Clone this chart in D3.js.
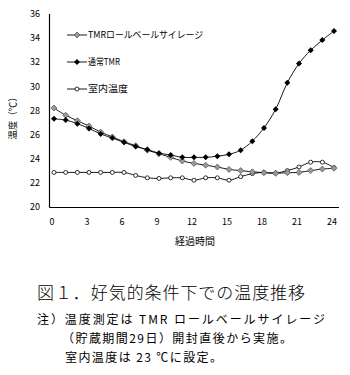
<!DOCTYPE html>
<html>
<head>
<meta charset="utf-8">
<script src="https://cdn.jsdelivr.net/npm/d3@7"></script>
<style>
  html, body { margin: 0; padding: 0; background: #fff; }
  svg { display: block; }
  text { font-family: "Noto Sans CJK JP", "DejaVu Sans", sans-serif; fill: #000; }
</style>
</head>
<body>
<svg id="chart" width="350" height="375"></svg>
<script>
// Elapsed hours after opening
const hours = d3.range(0, 25);

// Temperature (°C) per hour for each series
const rollBaleTemp = [28.2, 27.6, 27.15, 26.7, 26.2, 25.8, 25.4, 25.07, 24.7, 24.4, 24.1, 23.8, 23.6, 23.45, 23.3, 23.1, 23.0, 22.9, 22.83, 22.77, 22.83, 22.85, 23.0, 23.13, 23.2];
const normalTmrTemp = [27.3, 27.2, 26.9, 26.5, 26.05, 25.7, 25.35, 25.0, 24.75, 24.45, 24.3, 24.1, 24.1, 24.1, 24.2, 24.35, 24.7, 25.45, 26.55, 28.1, 30.3, 31.9, 33.0, 33.85, 34.6];
const roomTemp = [22.85, 22.85, 22.85, 22.85, 22.85, 22.85, 22.85, 22.6, 22.4, 22.35, 22.4, 22.4, 22.2, 22.4, 22.4, 22.2, 22.5, 22.75, 22.85, 22.8, 23.0, 23.3, 23.7, 23.7, 23.25];

const seriesNames = ["TMRロールベールサイレージ", "通常TMR", "室内温度"];
const xTicks = [0, 3, 6, 9, 12, 15, 18, 21, 24];
const yTicks = [20, 22, 24, 26, 28, 30, 32, 34, 36];

const svg = d3.select("#chart");

const x = d3.scaleLinear().domain([0, 24]).range([54, 334]);
const y = d3.scaleLinear().domain([20, 36]).range([206.7, 14.2]);
const axisX = 49.5, axisY = 207.5;

// Axis lines (no tick marks)
svg.append("line").attr("x1", axisX).attr("x2", axisX).attr("y1", 14).attr("y2", axisY)
  .attr("stroke", "#000").attr("stroke-width", 1.2);
svg.append("line").attr("x1", axisX).attr("x2", 339).attr("y1", axisY).attr("y2", axisY)
  .attr("stroke", "#000").attr("stroke-width", 1.2);

// Tick labels
svg.append("g").selectAll("text").data(yTicks).join("text")
  .attr("x", 40).attr("y", d => y(d)).attr("dy", "0.35em")
  .attr("text-anchor", "end").attr("font-size", 9)
  .text(d => d);
svg.append("g").selectAll("text").data(xTicks).join("text")
  .attr("x", d => x(d) - 2).attr("y", 222).attr("dy", "0.35em")
  .attr("text-anchor", "middle").attr("font-size", 9)
  .text(d => d);

// Axis titles
svg.append("text").attr("x", 195).attr("y", 241).attr("dy", "0.35em")
  .attr("text-anchor", "middle").attr("font-size", 10).text("経過時間");
svg.append("text").attr("transform", "translate(13,116) rotate(-90)")
  .attr("text-anchor", "middle").attr("dy", "0.35em").attr("font-size", 9.5)
  .text("温度（℃）");

const line = d3.line().x((d, i) => x(hours[i])).y(d => y(d)).curve(d3.curveCatmullRom.alpha(0.5));

// Diamond marker: a square turned 45°
const square = d3.symbol().type(d3.symbolSquare).size(18)();

function drawSeries(values) {
  const g = svg.append("g");
  g.append("path").datum(values).attr("d", line)
    .attr("fill", "none").attr("stroke", "#000").attr("stroke-width", 0.9);
  return g;
}

// Room temperature
const gRoom = drawSeries(roomTemp);
gRoom.selectAll("circle").data(roomTemp).join("circle")
  .attr("cx", (d, i) => x(hours[i])).attr("cy", d => y(d)).attr("r", 2)
  .attr("fill", "#fff").attr("stroke", "#000").attr("stroke-width", 0.8);

// Roll bale TMR silage
const gRoll = drawSeries(rollBaleTemp);
gRoll.selectAll("path.m").data(rollBaleTemp).join("path").attr("class", "m")
  .attr("transform", (d, i) => `translate(${x(hours[i])},${y(d)}) rotate(45)`)
  .attr("d", square)
  .attr("fill", "#999").attr("stroke", "#555").attr("stroke-width", 0.7);

// Conventional TMR
const gNormal = drawSeries(normalTmrTemp);
gNormal.selectAll("path.m").data(normalTmrTemp).join("path").attr("class", "m")
  .attr("transform", (d, i) => `translate(${x(hours[i])},${y(d)}) rotate(45)`)
  .attr("d", square)
  .attr("fill", "#000");

// Legend
const legendRows = [
  { name: seriesNames[0], y: 35, kind: "gray", len: 115 },
  { name: seriesNames[1], y: 62, kind: "black", len: 32 },
  { name: seriesNames[2], y: 89, kind: "circle", len: 40 }
];
const lg = svg.append("g");
legendRows.forEach(r => {
  lg.append("line").attr("x1", 67).attr("x2", 87).attr("y1", r.y).attr("y2", r.y)
    .attr("stroke", "#000").attr("stroke-width", 0.9);
  if (r.kind === "circle") {
    lg.append("circle").attr("cx", 77).attr("cy", r.y).attr("r", 2)
      .attr("fill", "#fff").attr("stroke", "#000").attr("stroke-width", 0.8);
  } else {
    lg.append("path").attr("transform", `translate(77,${r.y}) rotate(45)`)
      .attr("d", square)
      .attr("fill", r.kind === "gray" ? "#999" : "#000")
      .attr("stroke", r.kind === "gray" ? "#555" : "none").attr("stroke-width", 0.7);
  }
  lg.append("text").attr("x", 88).attr("y", r.y).attr("dy", "0.35em")
    .attr("font-size", 9.5).attr("textLength", r.len).attr("lengthAdjust", "spacingAndGlyphs")
    .text(r.name);
});

// Caption and notes
svg.append("text").attr("x", 37).attr("y", 293).attr("dy", "0.35em")
  .attr("font-size", 17).attr("textLength", 268).attr("font-weight", 300)
  .text("図１．好気的条件下での温度推移");
svg.append("text").attr("x", 37).attr("y", 320).attr("dy", "0.35em")
  .attr("font-size", 12).attr("textLength", 288)
  .text("注）温度測定は TMR ロールベールサイレージ");
svg.append("text").attr("x", 62).attr("y", 339).attr("dy", "0.35em")
  .attr("font-size", 12).attr("textLength", 230)
  .text("（貯蔵期間29日）開封直後から実施。");
svg.append("text").attr("x", 65).attr("y", 358).attr("dy", "0.35em")
  .attr("font-size", 12).attr("textLength", 157)
  .text("室内温度は 23 ℃に設定。");
</script>
</body>
</html>
